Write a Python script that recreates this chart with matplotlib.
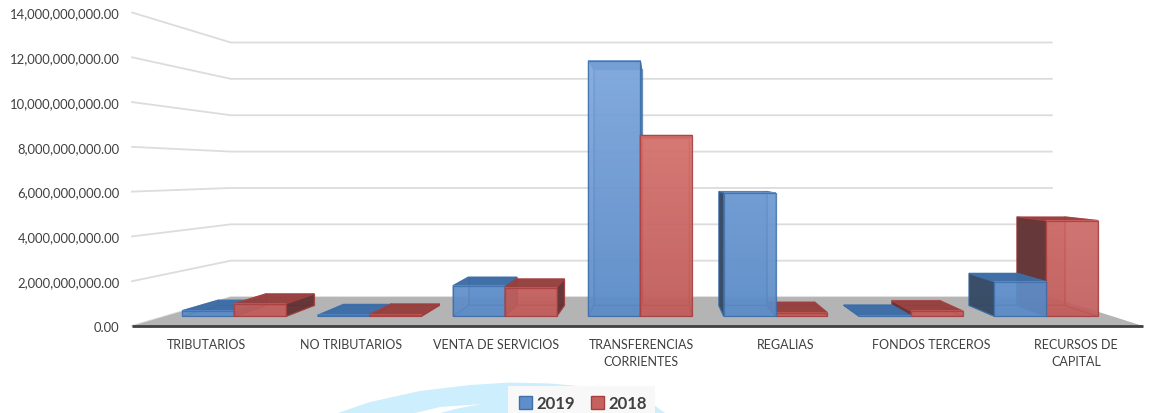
import numpy as np
import matplotlib
matplotlib.use("Agg")
import matplotlib.pyplot as plt
from matplotlib.patches import Polygon, Patch
from matplotlib.colors import to_rgb

categories = ["TRIBUTARIOS", "NO TRIBUTARIOS", "VENTA DE SERVICIOS",
              "TRANSFERENCIAS\nCORRIENTES", "REGALIAS", "FONDOS TERCEROS",
              "RECURSOS DE\nCAPITAL"]
values_2019 = [0.27e9, 0.05e9, 1.46e9, 12.18e9, 5.87e9, 0.02e9, 1.65e9]
values_2018 = [0.60e9, 0.08e9, 1.37e9, 8.62e9, 0.17e9, 0.25e9, 4.56e9]
y_ticks = [0, 2e9, 4e9, 6e9, 8e9, 10e9, 12e9, 14e9]

W, H = 1151, 414
plt.rcParams["font.family"] = ["Lato", "DejaVu Sans"]
fig = plt.figure(figsize=(W / 100, H / 100), dpi=100, facecolor="white")
ax = fig.add_axes([132 / W, (H - 327) / H, (1143 - 132) / W, (327 - 13.5) / H])
ax.patch.set_visible(False)
for s in ax.spines.values():
    s.set_visible(False)

# perspective set-up: depth factors and vanishing point in data units
XV, YV = 3.64, 6.875e9
K_BACK, K_FRONT, K_REAR = 0.812, 0.937, 0.866
BAR_W = 0.383
CAT_SHIFT = 0.011


def proj(x, v, k):
    return (XV + (x - XV) * k, YV + (v - YV) * k)


def fig_poly(points, color, z):
    fig.add_artist(Polygon([(x / W, 1 - y / H) for x, y in points], closed=True,
                           transform=fig.transFigure, fc=color, ec="none", zorder=z))


# watermark and legend backdrop behind the chart
fig_poly([(338, 414), (370, 403), (420, 392), (470, 386), (510, 383.5), (550, 384.5),
          (590, 388), (640, 396), (665, 414), (440, 414), (460, 409), (482, 405),
          (440, 408), (415, 414)], "#cdeefc", -2)
fig_poly([(508, 387), (655, 387), (655, 414), (508, 414)], "#f8f8f8", -1)

# gridlines
for t in y_ticks:
    ax.plot(*zip(proj(0, t, 1), proj(0, t, K_BACK), proj(7, t, K_BACK)),
            color="#dcdcdc", lw=1.3, zorder=1, clip_on=False, solid_joinstyle="miter")

# floor
ax.add_patch(Polygon([proj(0, 0, 1), proj(7, 0, 1), proj(7, 0, K_BACK), proj(0, 0, K_BACK)],
                     closed=True, fc="#b4b4b4", ec="none", zorder=2, clip_on=False))
ax.plot([0, 7], [0, 0], color="#404040", lw=2.0, zorder=3, clip_on=False, solid_capstyle="butt")

STYLE = {
    "b": dict(low="#5a8ac6", high="#80a9de", edge="#3f70aa", top="#3d6ca5", side="#34465f", back="#6f9bd2"),
    "r": dict(low="#c05c5a", high="#e07d78", edge="#a83f3f", top="#94403f", side="#5e3133", back="#c86e6b"),
}

bars = []
for i, (a, b) in enumerate(zip(values_2019, values_2018)):
    c = i + 0.5 + CAT_SHIFT
    bars.append((c - BAR_W, c, a, "b"))
    bars.append((c, c + BAR_W, b, "r"))
# painter's order: outermost from the vanishing point first
bars.sort(key=lambda r: -abs((r[0] + r[1]) / 2 - XV))

z = 4
for x0, x1, v, key in bars:
    st = STYLE[key]
    def face(pts, fc, alpha):
        global z
        ax.add_patch(Polygon([proj(*p) for p in pts], closed=True, fc=fc, alpha=alpha,
                             ec="none", zorder=z, clip_on=False))
        ax.add_patch(Polygon([proj(*p) for p in pts], closed=True, fc="none",
                             ec=st["edge"], lw=0.9, zorder=z, clip_on=False, alpha=0.75))
        z += 1
    kf, kr = K_FRONT, K_REAR
    face([(x0, 0, kr), (x1, 0, kr), (x1, v, kr), (x0, v, kr)], st["back"], 0.75)
    face([(x0, 0, kf), (x1, 0, kf), (x1, 0, kr), (x0, 0, kr)], st["back"], 0.75)
    # side facing the viewer is the one nearer the vanishing line
    inner, outer = (x1, x0) if (x0 + x1) / 2 < XV else (x0, x1)
    face([(outer, 0, kf), (outer, v, kf), (outer, v, kr), (outer, 0, kr)], st["back"], 0.5)
    seen = abs(inner - XV) > 0.2
    face([(inner, 0, kf), (inner, v, kf), (inner, v, kr), (inner, 0, kr)],
         st["side"] if seen else st["back"], 0.92)
    face([(x0, v, kf), (x1, v, kf), (x1, v, kr), (x0, v, kr)], st["top"], 0.95)
    # front face with the vertical gradient
    lo, hi = np.array(to_rgb(st["low"])), np.array(to_rgb(st["high"]))
    px0, py0 = proj(x0, 0, kf)
    px1, py1 = proj(x1, v, kf)
    f = (np.linspace(v, 0, 64) / 12e9)[:, None]
    rgb = lo + (hi - lo) * f
    img = np.dstack([rgb[:, 0:1], rgb[:, 1:2], rgb[:, 2:3], np.full((64, 1), 0.84)])
    ax.imshow(img, extent=[px0, px1, py0, py1], aspect="auto", origin="upper",
              zorder=z, clip_on=False, interpolation="bilinear")
    ax.add_patch(Polygon([(px0, py0), (px1, py0), (px1, py1), (px0, py1)], closed=True,
                         fc="none", ec=st["edge"], lw=0.9, alpha=0.85, zorder=z + 0.5, clip_on=False))
    z += 1

ax.set_xlim(0, 7)
ax.set_ylim(0, 14e9)
ax.set_xticks([0.515 + i * 1.0035 for i in range(7)])
ax.set_xticklabels(categories, linespacing=1.5, fontsize=9.0)
ax.set_yticks(y_ticks)
ax.set_yticklabels([f"{t:,.2f}" for t in y_ticks], fontsize=9.4)
ax.tick_params(axis="both", length=0, colors="#404040")
ax.tick_params(axis="y", pad=9)
ax.tick_params(axis="x", pad=9)

handles = [Patch(fc="#5f8fca", ec="#3f70aa", label="2019"),
           Patch(fc="#c5625f", ec="#a83f3f", label="2018")]
leg = fig.legend(handles=handles, ncol=2, loc="center", bbox_to_anchor=(583 / W, 1 - 404 / H),
                 frameon=False,
                 prop=dict(family="Lato", weight="bold", size=12), handlelength=0.8, handleheight=0.8,
                 handletextpad=0.24, columnspacing=0.96, borderpad=0.66, labelcolor="#404040")

fig.savefig("out.png", dpi=100)
